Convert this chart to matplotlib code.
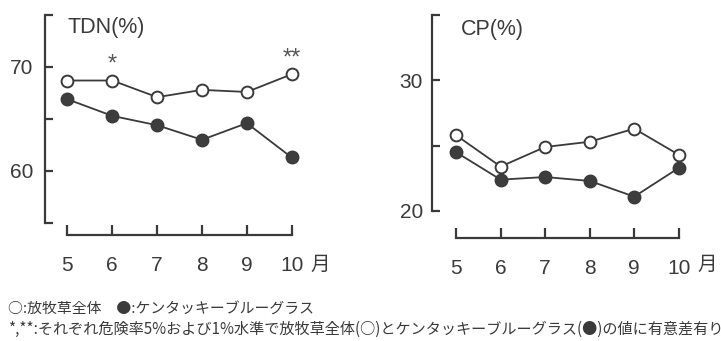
import matplotlib
matplotlib.use("Agg")
import matplotlib.pyplot as plt

plt.rcParams['font.family'] = ['Liberation Sans', 'Noto Sans CJK JP']

months = [5, 6, 7, 8, 9, 10]
month_labels = ['5', '6', '7', '8', '9', '10']

# TDN (%)
tdn_all = [68.7, 68.7, 67.1, 67.8, 67.6, 69.3]
tdn_kbg = [66.9, 65.3, 64.4, 63.0, 64.6, 61.3]
# CP (%)
cp_all = [25.8, 23.4, 24.9, 25.3, 26.3, 24.3]
cp_kbg = [24.5, 22.4, 22.6, 22.3, 21.1, 23.3]

sig_marks = {6: '*', 10: '**'}

ink = '#3a3a3a'
W, H = 721, 341
fig = plt.figure(figsize=(W / 100, H / 100), dpi=100)


def panel(rect, open_vals, filled_vals, ylim, yticks, ylabels, title, title_xy,
          xlim, drop, ypad):
    ax = fig.add_axes(rect)
    ax.set_xlim(*xlim)
    ax.set_ylim(*ylim)
    ax.plot(months, open_vals, '-o', color=ink, lw=1.3, ms=8.5,
            mfc='white', mec=ink, mew=1.4, zorder=3)
    ax.plot(months, filled_vals, '-o', color=ink, lw=1.3, ms=9,
            mfc='#3d3d3d', mec=ink, mew=1.0, zorder=3)
    for s in ('top', 'right'):
        ax.spines[s].set_visible(False)
    ax.spines['left'].set_bounds(*ylim)
    ax.spines['left'].set_color(ink)
    ax.spines['left'].set_linewidth(1.6)
    ax.spines['bottom'].set_bounds(months[0], months[-1])
    ax.spines['bottom'].set_position(('outward', drop))
    ax.spines['bottom'].set_color(ink)
    ax.spines['bottom'].set_linewidth(1.6)
    ax.set_yticks(yticks)
    ax.set_yticklabels(ylabels)
    ax.set_xticks(months)
    ax.set_xticklabels(month_labels)
    ax.tick_params(axis='y', direction='in', length=6, width=1.6, color=ink,
                   labelsize=15, labelcolor=ink, pad=ypad)
    ax.tick_params(axis='x', direction='in', length=7, width=1.6, color=ink,
                   labelsize=15, labelcolor=ink, pad=15)
    ax.text(*title_xy, title, fontsize=15.5, color=ink, ha='left', va='center')
    return ax


ax1 = panel([45 / W, 118 / H, 270 / W, 208 / H], tdn_all, tdn_kbg,
            (55, 75), [55, 60, 65, 70, 75], ['', '60', '', '70', ''],
            'TDN(%)', (5.0, 73.8), (4.5, 10.52), 8.6, 8.5)
for m, s in sig_marks.items():
    i = months.index(m)
    ax1.text(m, tdn_all[i] + 1.5, s, fontsize=17, color='#555555',
             ha='center', va='center')

ax2 = panel([432 / W, 130 / H, 270 / W, 196 / H], cp_all, cp_kbg,
            (20, 35), [20, 25, 30, 35], ['20', '', '30', ''],
            'CP(%)', (5.1, 33.9), (4.46, 10.52), 19.4, 6.5)

# month unit next to the last tick label of each panel
fig.text(320 / W, 1 - 265 / H, '月', fontsize=14, color=ink,
         ha='center', va='center')
fig.text(707 / W, 1 - 265 / H, '月', fontsize=14, color=ink,
         ha='center', va='center')

cap = dict(color=ink, va='center', ha='left', family=['Noto Sans CJK JP'])
fig.text(8 / W, 1 - 310 / H, '○:放牧草全体　●:ケンタッキーブルーグラス',
         fontsize=10.7, **cap)
fig.text(8 / W, 1 - 329 / H,
         '*,**:それぞれ危険率5%および1%水準で放牧草全体(○)とケンタッキーブルーグラス(●)の値に有意差有り',
         fontsize=10.9, **cap)

fig.savefig('out.png', dpi=100, facecolor='white')
